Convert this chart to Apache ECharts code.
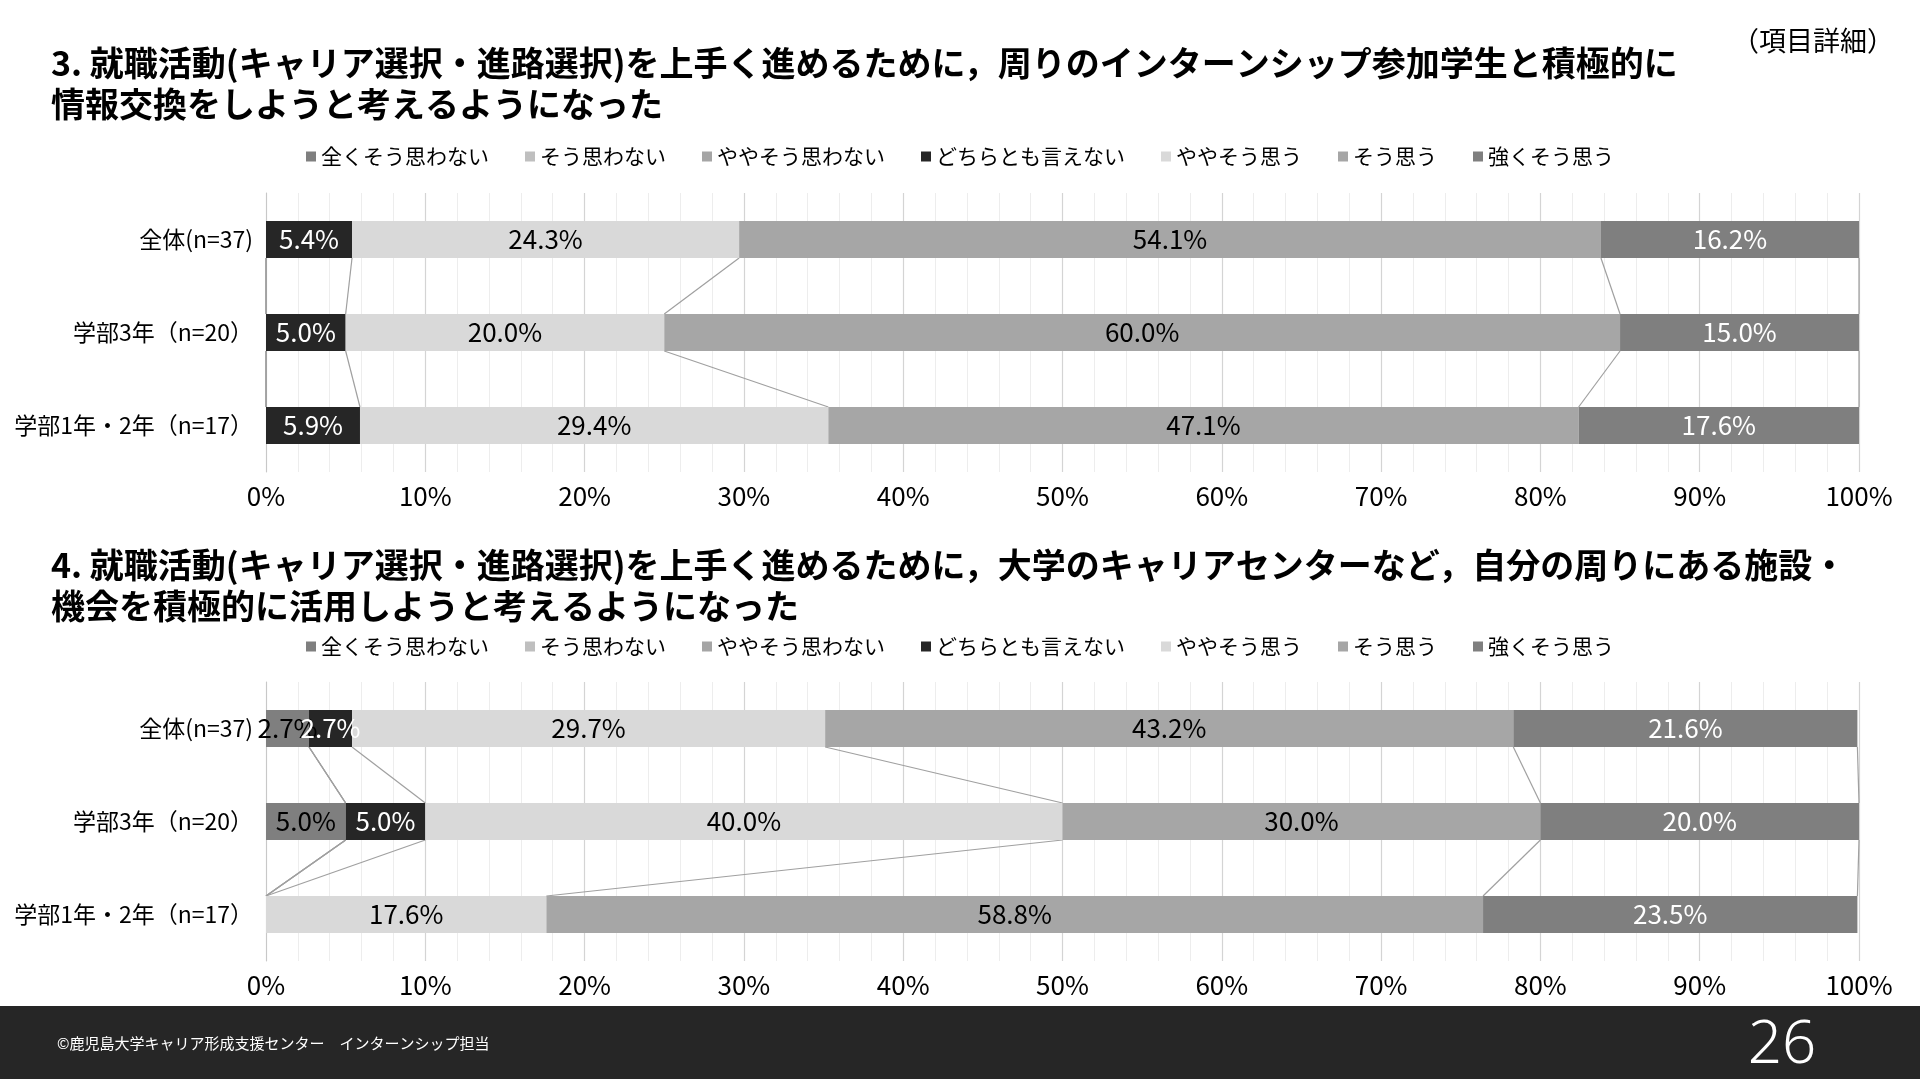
<!DOCTYPE html>
<html lang="ja">
<head>
<meta charset="utf-8">
<title>項目詳細 3・4</title>
<script src="https://cdn.jsdelivr.net/npm/echarts@6/dist/echarts.min.js"></script>
<style>
  html, body { margin: 0; padding: 0; background: #fff; }
  #main { width: 1920px; height: 1079px; }
</style>
</head>
<body>
<div id="main"></div>
<script>
// rows of the two stacked bar charts, in percent
const categories = ['全体(n=37)', '学部3年（n=20）', '学部1年・2年（n=17）'];
const seriesNames = ['全くそう思わない', 'そう思わない', 'ややそう思わない', 'どちらとも言えない', 'ややそう思う', 'そう思う', '強くそう思う'];
const seriesColors = ['#7f7f7f', '#bfbfbf', '#a5a5a5', '#262626', '#d9d9d9', '#a6a6a6', '#7f7f7f'];
const labelColors = ['#000', '#000', '#000', '#fff', '#000', '#000', '#fff'];

// 3. 周りのインターンシップ参加学生と積極的に情報交換
const q3All = [0, 0, 0, 5.4, 24.3, 54.1, 16.2];
const q3Year3 = [0, 0, 0, 5.0, 20.0, 60.0, 15.0];
const q3Year12 = [0, 0, 0, 5.9, 29.4, 47.1, 17.6];

// 4. 自分の周りにある施設・機会を積極的に活用
const q4All = [2.7, 0, 0, 2.7, 29.7, 43.2, 21.6];
const q4Year3 = [5.0, 0, 0, 5.0, 40.0, 30.0, 20.0];
const q4Year12 = [0, 0, 0, 0, 17.6, 58.8, 23.5];

const title3 = '3. 就職活動(キャリア選択・進路選択)を上手く進めるために，周りのインターンシップ参加学生と積極的に\n情報交換をしようと考えるようになった';
const title4 = '4. 就職活動(キャリア選択・進路選択)を上手く進めるために，大学のキャリアセンターなど，自分の周りにある施設・\n機会を積極的に活用しようと考えるようになった';
const footerText = '©鹿児島大学キャリア形成支援センター　インターンシップ担当';
const pageNo = '26';

const FONT = '"Noto Sans CJK JP", "Noto Sans", sans-serif';
const BAR_W = 37;
const GRID_TOPS = [193, 682];
const GRID_H = 279;

const charts = [
  [q3All, q3Year3, q3Year12],
  [q4All, q4Year3, q4Year12]
];

// Excel style series lines: join each segment end between neighbouring bars
function seriesLineData(rows) {
  const cum = rows.map(r => {
    let s = 0;
    return r.map(v => (s += v));
  });
  const out = [];
  for (let k = 0; k < seriesNames.length; k++) {
    for (let c = 0; c < rows.length - 1; c++) {
      out.push([cum[c][k], cum[c + 1][k], c]);
    }
  }
  return out;
}

const series = [];
charts.forEach((rows, i) => {
  seriesNames.forEach((name, k) => {
    series.push({
      name: name,
      type: 'bar',
      stack: 'q' + i,
      xAxisIndex: i,
      yAxisIndex: i,
      barWidth: BAR_W,
      itemStyle: { color: seriesColors[k] },
      label: {
        show: true,
        position: 'inside',
        color: labelColors[k],
        fontFamily: FONT,
        fontSize: 26,
        formatter: p => (p.value > 0 ? p.value.toFixed(1) + '%' : '')
      },
      emphasis: { disabled: true },
      data: rows.map(r => r[k])
    });
  });
  series.push({
    type: 'custom',
    xAxisIndex: i,
    yAxisIndex: i,
    silent: true,
    z: 1,
    encode: { x: [0, 1], y: 2 },
    renderItem: (params, api) => {
      const c = api.value(2);
      const a = api.coord([api.value(0), c]);
      const b = api.coord([api.value(1), c + 1]);
      return {
        type: 'line',
        shape: { x1: a[0], y1: a[1] + BAR_W / 2, x2: b[0], y2: b[1] - BAR_W / 2 },
        style: { stroke: '#a0a0a0', lineWidth: 1.2 }
      };
    },
    data: seriesLineData(rows)
  });
});

const chart = echarts.init(document.getElementById('main'));
chart.setOption({
  backgroundColor: '#fff',
  animation: false,
  textStyle: { fontFamily: FONT },
  title: [
    { text: title3, left: 51, top: 43, padding: 0,
      textStyle: { fontFamily: FONT, fontSize: 34, fontWeight: 'bold', color: '#000', lineHeight: 41 } },
    { text: title4, left: 51, top: 545, padding: 0,
      textStyle: { fontFamily: FONT, fontSize: 34, fontWeight: 'bold', color: '#000', lineHeight: 41 } },
    { text: '（項目詳細）', left: 1732, top: 27, padding: 0,
      textStyle: { fontFamily: FONT, fontSize: 27, fontWeight: 'normal', color: '#000' } }
  ],
  legend: [141, 631].map(top => ({
    data: seriesNames,
    top: top,
    left: 'center',
    icon: 'rect',
    itemWidth: 10,
    itemHeight: 10,
    itemGap: 36,
    selectedMode: false,
    textStyle: { fontFamily: FONT, fontSize: 21, color: '#000' }
  })),
  grid: GRID_TOPS.map(top => ({ left: 266, right: 61, top: top, height: GRID_H })),
  xAxis: [0, 1].map(i => ({
    type: 'value',
    gridIndex: i,
    min: 0,
    max: 100,
    interval: 10,
    axisLine: { show: false },
    axisTick: { show: false },
    axisLabel: { formatter: '{value}%', fontFamily: FONT, fontSize: 26, color: '#000', margin: 11 },
    splitLine: { lineStyle: { color: '#d4d4d4', width: 1.2 } },
    minorTick: { show: false, splitNumber: 5 },
    minorSplitLine: { show: true, lineStyle: { color: '#ededed' } }
  })),
  yAxis: [0, 1].map(i => ({
    type: 'category',
    gridIndex: i,
    inverse: true,
    data: categories,
    axisLine: { show: true, lineStyle: { color: '#c8c8c8' } },
    axisTick: { show: false },
    axisLabel: { fontFamily: FONT, fontSize: 23, color: '#000', margin: 13 }
  })),
  series: series,
  graphic: [
    { type: 'rect', left: 0, top: 1006, shape: { width: 1920, height: 73 }, style: { fill: '#262626' }, z: -1 },
    { type: 'text', x: 57, y: 1043,
      style: { text: footerText, fill: '#fff', font: '15px ' + FONT, verticalAlign: 'middle' } },
    { type: 'text', x: 1782, y: 1046,
      style: { text: pageNo, fill: '#fff', font: '300 60px "Noto Sans", sans-serif', align: 'center', verticalAlign: 'middle' } }
  ]
});
</script>
</body>
</html>
